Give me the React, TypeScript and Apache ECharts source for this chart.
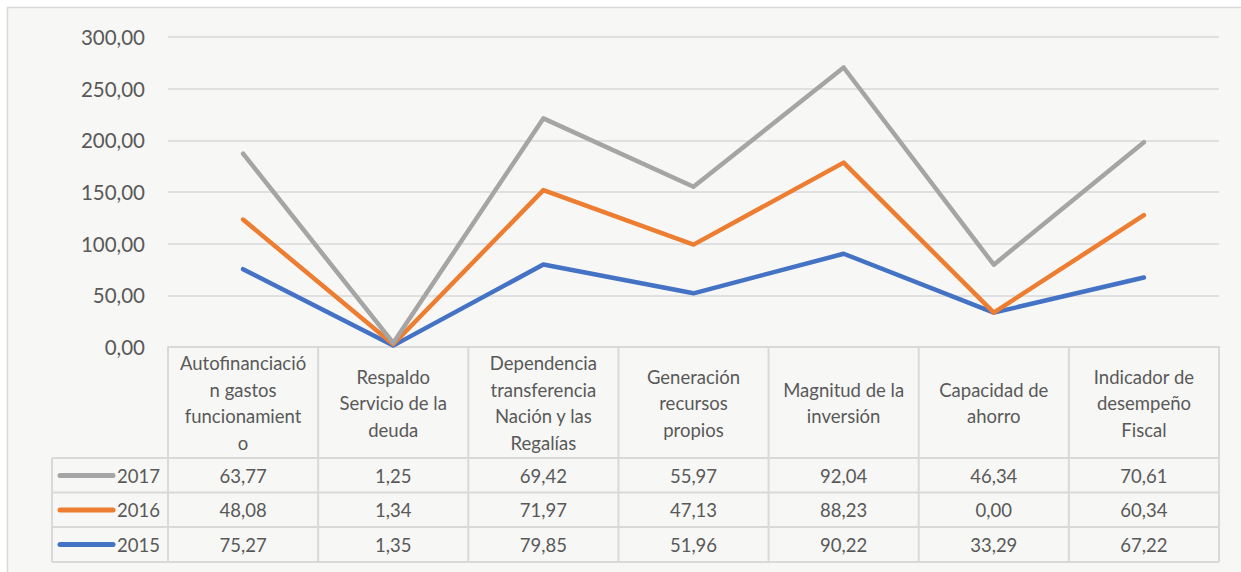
import React, { useEffect, useRef } from "react";
import * as echarts from "echarts";

const categories = [
  "Autofinanciació\nn gastos\nfuncionamient\no",
  "Respaldo\nServicio de la\ndeuda",
  "Dependencia\ntransferencia\nNación y las\nRegalías",
  "Generación\nrecursos\npropios",
  "Magnitud de la\ninversión",
  "Capacidad de\nahorro",
  "Indicador de\ndesempeño\nFiscal",
];
const years = ["2015", "2016", "2017"];
const values2015 = [75.27, 1.35, 79.85, 51.96, 90.22, 33.29, 67.22];
const values2016 = [48.08, 1.34, 71.97, 47.13, 88.23, 0.0, 60.34];
const values2017 = [63.77, 1.25, 69.42, 55.97, 92.04, 46.34, 70.61];
const colors = ["#4472c4", "#ed7d31", "#a5a5a5"];

const FONT = "Lato";
const fmt = (v: number) => v.toFixed(2).replace(".", ",");

export default function App() {
  const ref = useRef<HTMLDivElement>(null);
  useEffect(() => {
    if (!ref.current) return;
    const chart = echarts.init(ref.current, undefined, { renderer: "svg" });
    const W = 1241, H = 572;
    const gl = 168, gr = 1219, gt = 37, gb = 347;
    const rowTops = [458, 492.5, 527];
    const rowH = 35;
    const tableBottom = 562;
    const tableLeft = 52;
    const cw = (gr - gl) / categories.length;
    const seriesVals = [values2015, values2016, values2017];
    const TS = 18.5;

    const graphics: any[] = [];
    graphics.push({
      type: "rect", z: -10, silent: true,
      shape: { x: 7.5, y: 7.5, width: W, height: H },
      style: { fill: "#f7f7f5", stroke: "#d9d9d9", lineWidth: 1.5 },
    });
    const lineStyle = { stroke: "#d9d9d9", lineWidth: 2 };
    for (let i = 0; i <= categories.length; i++) {
      const x = gl + i * cw;
      graphics.push({ type: "line", shape: { x1: x, y1: gb, x2: x, y2: tableBottom }, style: lineStyle });
    }
    graphics.push({ type: "line", shape: { x1: tableLeft, y1: rowTops[0], x2: tableLeft, y2: tableBottom }, style: lineStyle });
    [...rowTops, tableBottom].forEach((y) => {
      graphics.push({ type: "line", shape: { x1: tableLeft, y1: y, x2: gr, y2: y }, style: lineStyle });
    });
    const order = [2, 1, 0];
    order.forEach((si, r) => {
      const cy = rowTops[r] + rowH / 2;
      graphics.push({
        type: "line",
        shape: { x1: 60, y1: cy, x2: 113, y2: cy },
        style: { stroke: colors[si], lineWidth: 5, lineCap: "round" },
      });
      graphics.push({
        type: "text", x: 117, y: cy,
        style: { text: years[si], fontFamily: FONT, fontSize: TS, fill: "#595959", verticalAlign: "middle", align: "left" },
      });
      seriesVals[si].forEach((v, ci) => {
        graphics.push({
          type: "text", x: gl + (ci + 0.5) * cw, y: cy,
          style: { text: fmt(v), fontFamily: FONT, fontSize: TS, fill: "#595959", verticalAlign: "middle", align: "center" },
        });
      });
    });

    chart.setOption({
      animation: false,
      backgroundColor: "#ffffff",
      textStyle: { fontFamily: FONT },
      grid: { left: gl, right: W - gr, top: gt, bottom: H - gb },
      xAxis: {
        type: "category",
        data: categories,
        boundaryGap: true,
        axisLine: { show: true, lineStyle: { color: "#d9d9d9", width: 2 } },
        axisTick: { show: false },
        axisLabel: {
          interval: 0,
          margin: 56,
          verticalAlign: "middle",
          lineHeight: 26.5,
          fontSize: TS,
          fontFamily: FONT,
          color: "#595959",
        },
      },
      yAxis: {
        type: "value",
        min: 0,
        max: 300,
        interval: 50,
        axisLine: { show: false },
        axisTick: { show: false },
        splitLine: { lineStyle: { color: "#d9d9d9", width: 1.5 } },
        axisLabel: {
          formatter: (v: number) => fmt(v),
          fontSize: 20.5,
          fontFamily: FONT,
          color: "#595959",
          margin: 23,
        },
      },
      series: years.map((y, i) => ({
        name: y,
        type: "line",
        stack: "total",
        data: seriesVals[i],
        symbol: "none",
        lineStyle: { width: 4.5, color: colors[i], cap: "round", join: "round" },
        itemStyle: { color: colors[i] },
      })),
      graphic: graphics,
    });
    return () => chart.dispose();
  }, []);
  return <div ref={ref} style={{ position: "fixed", left: 0, top: 0, width: 1241, height: 572 }} />;
}
